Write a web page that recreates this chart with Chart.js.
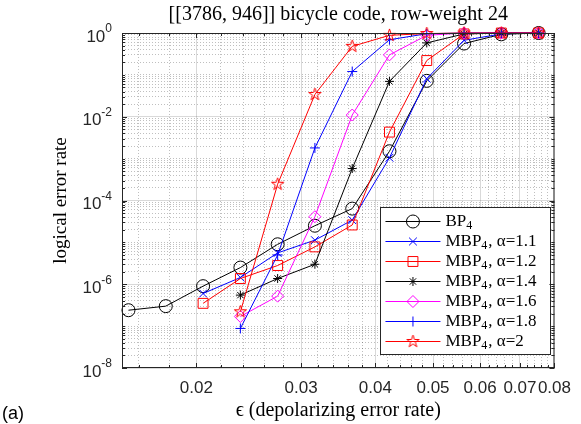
<!DOCTYPE html>
<html>
<head>
<meta charset="utf-8">
<script src="https://cdn.jsdelivr.net/npm/chart.js@4.4.1/dist/chart.umd.min.js"></script>
<style>
html,body{margin:0;padding:0;background:#fff;}
#wrap{position:relative;width:581px;height:424px;}
</style>
</head>
<body>
<div id="wrap"><canvas id="c" width="581" height="424"></canvas></div>
<script>
// depolarizing error rate (x positions of the simulated points)
var epsilon = [0.01538, 0.01777, 0.02053, 0.02372, 0.0274, 0.03165, 0.03657, 0.04224, 0.0488, 0.05638, 0.06513, 0.07524];

// logical error rates, null = not simulated
var bp4    = [2.4e-7, 3.0e-7, 9.0e-7, 2.5e-6, 9.0e-6, 2.5e-5, 6.4e-5, 1.5e-3, 7.2e-2, 0.56, 0.93, 1.0];
var mbp11  = [null, null, 6.0e-7, 1.45e-6, 5.6e-6, 1.13e-5, 3.4e-5, 1.05e-3, 8.1e-2, 0.67, 0.95, 1.0];
var mbp12  = [null, null, 3.5e-7, 1.37e-6, 2.8e-6, 7.8e-6, 2.6e-5, 4.3e-3, 0.22, 0.95, 1.0, 1.0];
var mbp14  = [null, null, null, 5.5e-7, 1.37e-6, 3.0e-6, 5.8e-4, 7.0e-2, 0.58, 0.95, 1.0, 1.0];
var mbp16  = [null, null, null, 1.7e-7, 5.2e-7, 4.1e-5, 1.1e-2, 0.30, 0.88, 1.0, 1.0, 1.0];
var mbp18  = [null, null, null, 8.8e-8, 5.0e-6, 1.8e-3, 0.12, 0.69, 0.96, 1.0, 1.0, 1.0];
var mbp20  = [null, null, null, 2.2e-7, 2.45e-4, 3.4e-2, 0.48, 0.88, 0.97, 1.0, 1.0, 1.0];

var seriesLabels = ['BP_4', 'MBP_4, α=1.1', 'MBP_4, α=1.2', 'MBP_4, α=1.4', 'MBP_4, α=1.6', 'MBP_4, α=1.8', 'MBP_4, α=2'];

// ticks
var xMajorTicks = [0.02, 0.03, 0.04, 0.05, 0.06, 0.07, 0.08];
var xTickLabels = ['0.02', '0.03', '0.04', '0.05', '0.06', '0.07', '0.08'];
var xMinorTicks = [0.016, 0.018, 0.022, 0.024, 0.026, 0.028, 0.032, 0.034, 0.036, 0.038,
                   0.042, 0.044, 0.046, 0.048, 0.052, 0.054, 0.056, 0.058, 0.062, 0.064,
                   0.066, 0.068, 0.072, 0.074, 0.076, 0.078];
var yTickExp = [0, -2, -4, -6, -8];

var titleText = '[[3786, 946]] bicycle code, row-weight 24';
var xTitle = 'ϵ (depolarizing error rate)';
var yTitle = 'logical error rate';

// pentagram marker (matlab 'p')
function pentagram(color, r) {
    var s = Math.ceil(2 * r + 4);
    var c = document.createElement('canvas');
    c.width = s; c.height = s;
    var g = c.getContext('2d');
    g.strokeStyle = color; g.lineWidth = 1;
    g.beginPath();
    for (var i = 0; i < 10; i++) {
        var a = -Math.PI / 2 + i * Math.PI / 5;
        var rr = (i % 2) ? r * 0.382 : r;
        var px = s / 2 + rr * Math.cos(a), py = s / 2 + rr * Math.sin(a);
        if (i == 0) g.moveTo(px, py); else g.lineTo(px, py);
    }
    g.closePath();
    g.stroke();
    return c;
}

var looks = [
    { color: '#000000', point: 'circle',   r: 6.5 },
    { color: '#0000ff', point: 'crossRot', r: 5.5 },
    { color: '#ff0000', point: 'rect',     r: 7 },
    { color: '#000000', point: 'star',     r: 4.5 },
    { color: '#ff00ff', point: 'rectRot',  r: 6 },
    { color: '#0000ff', point: 'cross',    r: 5 },
    { color: '#ff0000', point: pentagram('#ff0000', 6.5), r: 6 }
];

function pairs(vals) {
    var out = [];
    for (var i = 0; i < epsilon.length; i++)
        if (vals[i] !== null) out.push({ x: epsilon[i], y: vals[i] });
    return out;
}

var allSeries = [bp4, mbp11, mbp12, mbp14, mbp16, mbp18, mbp20];
var datasets = allSeries.map(function (vals, i) {
    return {
        label: seriesLabels[i],
        data: pairs(vals),
        borderColor: looks[i].color,
        borderWidth: 1,
        pointStyle: looks[i].point,
        pointRadius: looks[i].r,
        pointBorderColor: looks[i].color,
        pointBackgroundColor: 'rgba(0,0,0,0)',
        pointBorderWidth: 1,
        fill: false,
        tension: 0,
        clip: false,
        order: 10 - i
    };
});

function isIn(arr, v) { return arr.indexOf(v) >= 0; }

var yAllTicks = [];
for (var e = -8; e <= 0; e++) {
    yAllTicks.push({ value: Math.pow(10, e), major: e % 2 == 0 });
    if (e < 0) for (var m = 2; m <= 9; m++) yAllTicks.push({ value: m * Math.pow(10, e), major: false });
}

function drawLabel(g, text, x, y, size) {
    // text with "_4" style subscript
    var parts = text.split('_');
    g.font = size + 'px "Liberation Serif"';
    g.fillText(parts[0], x, y);
    x += g.measureText(parts[0]).width;
    if (parts.length > 1) {
        var sub = parts[1].charAt(0), rest = parts[1].slice(1);
        g.font = Math.round(size * 0.7) + 'px "Liberation Serif"';
        g.fillText(sub, x, y + size * 0.22);
        x += g.measureText(sub).width + 1;
        g.font = size + 'px "Liberation Serif"';
        g.fillText(rest, x, y);
    }
}

var decor = {
    id: 'decor',
    afterDraw: function (chart) {
        var g = chart.ctx, a = chart.chartArea, xs = chart.scales.x, ys = chart.scales.y;
        g.save();

        // legend (southeast)
        var lw = 170, lh = 147;
        var lx = a.right - 4 - lw, ly = 207;
        g.fillStyle = '#ffffff';
        g.fillRect(lx, ly, lw, lh);
        g.strokeStyle = '#262626'; g.lineWidth = 1;
        g.strokeRect(Math.round(lx) + 0.5, ly + 0.5, lw, lh);
        for (var i = 0; i < datasets.length; i++) {
            var ry = ly + 14 + 20 * i;
            g.strokeStyle = looks[i].color;
            g.lineWidth = 1;
            g.beginPath(); g.moveTo(lx + 5, ry + 0.5); g.lineTo(lx + 60, ry + 0.5); g.stroke();
            g.fillStyle = 'rgba(0,0,0,0)';
            Chart.helpers.drawPoint(g, { pointStyle: looks[i].point, radius: looks[i].r, borderWidth: 1, rotation: 0 }, lx + 32.5, ry + 0.5);
            g.fillStyle = '#000000';
            g.textBaseline = 'middle'; g.textAlign = 'left';
            drawLabel(g, seriesLabels[i], lx + 65, ry + 1, 17);
        }

        // box and inward ticks
        g.strokeStyle = '#262626'; g.lineWidth = 1;
        g.beginPath();
        xs.ticks.forEach(function (t) {
            var px = Math.round(xs.getPixelForValue(t.value)) + 0.5, L = t.major ? 5 : 3;
            g.moveTo(px, a.bottom); g.lineTo(px, a.bottom - L);
            g.moveTo(px, a.top); g.lineTo(px, a.top + L);
        });
        ys.ticks.forEach(function (t) {
            var py = Math.round(ys.getPixelForValue(t.value)) + 0.5, L = t.major ? 5 : 3;
            g.moveTo(a.left, py); g.lineTo(a.left + L, py);
            g.moveTo(a.right, py); g.lineTo(a.right - L, py);
        });
        g.stroke();
        g.strokeRect(a.left + 0.5, a.top + 0.5, a.right - a.left - 1, a.bottom - a.top - 1);

        // y tick labels 10^n
        g.fillStyle = '#262626';
        g.textBaseline = 'middle'; g.textAlign = 'left';
        yTickExp.forEach(function (ex) {
            var py = ys.getPixelForValue(Math.pow(10, ex));
            var es = ex < 0 ? '-' + (-ex) : '' + ex;
            g.font = '12px "Liberation Sans"';
            var we = g.measureText(es).width;
            g.font = '17px "Liberation Sans"';
            var wb = g.measureText('10').width;
            var xr = 112;
            g.fillText('10', xr - we - wb, py + 4);
            g.font = '12px "Liberation Sans"';
            g.fillText(es, xr - we, py - 4);
        });

        // titles
        var cx = (a.left + a.right) / 2;
        g.fillStyle = '#000000';
        g.textAlign = 'center'; g.textBaseline = 'middle';
        g.font = '20px "Liberation Serif"';
        g.fillText(titleText, cx, 15);
        g.font = '20px "Liberation Serif"';
        g.fillText(xTitle, cx, 411);
        g.font = '19px "Liberation Serif"';
        g.save();
        g.translate(61, (a.top + a.bottom) / 2);
        g.rotate(-Math.PI / 2);
        g.fillText(yTitle, 0, 0);
        g.restore();

        g.textAlign = 'left'; g.textBaseline = 'alphabetic';
        g.font = '18px "Liberation Sans"';
        g.fillText('(a)', 2, 419);
        g.restore();
    }
};

new Chart(document.getElementById('c'), {
    type: 'line',
    data: { datasets: datasets },
    options: {
        responsive: false,
        animation: false,
        devicePixelRatio: 1,
        layout: { padding: { left: 0, right: 23, top: 33, bottom: 0 } },
        plugins: { legend: { display: false }, title: { display: false }, tooltip: { enabled: false } },
        scales: {
            x: {
                type: 'logarithmic',
                min: 0.015, max: 0.08,
                afterBuildTicks: function (s) {
                    s.ticks = xMajorTicks.concat(xMinorTicks).sort(function (p, q) { return p - q; })
                        .map(function (v) { return { value: v, major: isIn(xMajorTicks, v) }; });
                },
                afterFit: function (s) { s.height = 56; },
                ticks: {
                    autoSkip: false, maxRotation: 0, minRotation: 0, padding: 10,
                    color: '#262626',
                    font: { family: 'Liberation Sans', size: 17 },
                    callback: function (v) { var k = xMajorTicks.indexOf(v); return k >= 0 ? xTickLabels[k] : ''; }
                },
                grid: {
                    drawTicks: false, lineWidth: 1,
                    color: function (c) { return (c.tick && c.tick.major) ? 'rgba(0,0,0,0.15)' : 'rgba(0,0,0,0.25)'; }
                },
                border: {
                    display: false,
                    dash: function (c) { return (c.tick && c.tick.major) ? [] : [1, 2]; }
                }
            },
            y: {
                type: 'logarithmic',
                min: 1e-8, max: 1,
                afterBuildTicks: function (s) { s.ticks = yAllTicks.map(function (t) { return { value: t.value, major: t.major }; }); },
                afterFit: function (s) { s.width = 122; },
                ticks: { display: false, autoSkip: false },
                grid: {
                    drawTicks: false, lineWidth: 1,
                    color: function (c) { return (c.tick && c.tick.major) ? 'rgba(0,0,0,0.15)' : 'rgba(0,0,0,0.25)'; }
                },
                border: {
                    display: false,
                    dash: function (c) { return (c.tick && c.tick.major) ? [] : [1, 2]; }
                }
            }
        }
    },
    plugins: [decor]
});
</script>
</body>
</html>
